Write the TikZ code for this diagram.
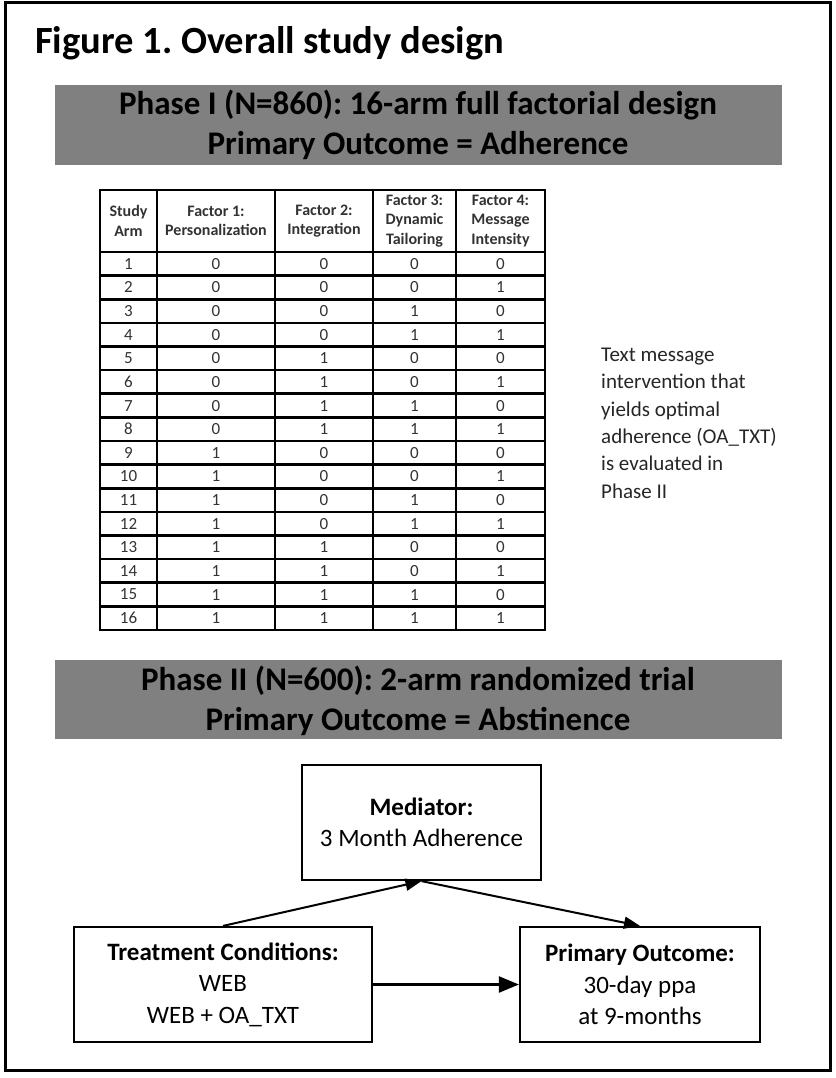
\documentclass[tikz,border=0pt]{standalone}
\usepackage{fontspec}
\setmainfont{Carlito}
\usetikzlibrary{arrows.meta}
\definecolor{bandgray}{RGB}{128,128,128}
\definecolor{cellink}{RGB}{50,50,50}
\frenchspacing
\begin{document}
\begin{tikzpicture}[x=1pt,y=-1pt,
  band/.style={fill=bandgray,draw=none},
  bandtext/.style={font=\fontsize{33}{40}\selectfont\bfseries,align=center},
  headcell/.style={font=\fontsize{16}{19.5}\selectfont\bfseries,align=center,text=cellink,inner sep=0pt},
  numcell/.style={font=\fontsize{17}{18}\selectfont,text=cellink},
  stepbox/.style={draw,line width=2.2pt,minimum width=#1,minimum height=115pt,
    align=center,font=\fontsize{25}{31.5}\selectfont,inner sep=0pt},
  link/.style={line width=2pt,-{Triangle[length=16pt,width=12pt]}},
  biglink/.style={line width=2.2pt,-{Triangle[length=20pt,width=16pt]}}]
  \useasboundingbox (0,0) rectangle (835,1078);
  % outer frame and title
  \draw[line width=3pt] (5,3) rectangle (830,1070);
  \node[anchor=base west,inner sep=0pt,font=\fontsize{38.5}{40}\selectfont\bfseries]
    (title) at (35,54) {Figure 1. Overall study design};
  % phase I
  \path[band] (55,85) rectangle (782,165);
  \node[bandtext,anchor=base] (phaseone) at (418,115)
    {Phase I (N=860): 16-arm full factorial design};
  \node[bandtext,anchor=base] (outcomeone) at (418,155)
    {Primary Outcome = Adherence};
  % factorial table
  \path
  (100,190) coordinate (TL)
  (545,630) coordinate (BR)
  ;
  \draw[line width=2.6pt] (TL) rectangle (BR);
  \foreach \x in {157,275,373,456}
    \draw[line width=2.6pt] (\x,190) -- (\x,630);
  \foreach \i in {0,...,15}
    \draw[line width=2.6pt] (100,252+23.625*\i) -- (545,252+23.625*\i);
  \node[headcell] (harm) at (128.5,221) {Study\\Arm};
  \node[headcell] (hfone) at (216,221) {Factor 1:\\Personalization};
  \node[headcell] (hftwo) at (324,221) {Factor 2:\\Integration};
  \node[headcell] (hfthree) at (414.5,221) {Factor 3:\\Dynamic\\Tailoring};
  \node[headcell] (hffour) at (500.5,221) {Factor 4:\\Message\\Intensity};
  \foreach \i in {1,...,16}{
    \pgfmathsetmacro{\y}{252+23.625*(\i-0.5)}
    \pgfmathtruncatemacro{\fa}{mod(floor((\i-1)/8),2)}
    \pgfmathtruncatemacro{\fb}{mod(floor((\i-1)/4),2)}
    \pgfmathtruncatemacro{\fc}{mod(floor((\i-1)/2),2)}
    \pgfmathtruncatemacro{\fd}{mod(\i-1,2)}
    \node[numcell] (arm\i) at (128.5,\y) {\i};
    \node[numcell] (fa\i) at (216,\y) {\fa};
    \node[numcell] (fb\i) at (324,\y) {\fb};
    \node[numcell] (fc\i) at (414.5,\y) {\fc};
    \node[numcell] (fd\i) at (500.5,\y) {\fd};
  }
  \node[anchor=north west,inner sep=0pt,align=left,
    font=\fontsize{21}{27.3}\selectfont,text=black!85] (note) at (601,348)
    {Text message\\intervention that\\yields optimal\\adherence (OA\_TXT)\\is evaluated in\\Phase II};
  % phase II
  \path[band] (55,660) rectangle (782,739);
  \node[bandtext,anchor=base] (phasetwo) at (418,690)
    {Phase II (N=600): 2-arm randomized trial};
  \node[bandtext,anchor=base] (outcometwo) at (418,730)
    {Primary Outcome = Abstinence};
  % mediation model
  \node[stepbox=239pt] (med) at (421.5,822.5)
    {\textbf{Mediator:}\\3 Month Adherence};
  \node[stepbox=298pt] (treat) at (223,984.5)
    {\textbf{Treatment Conditions:}\\WEB\\WEB + OA\_TXT};
  \node[stepbox=240pt] (prim) at (640,984.5)
    {\textbf{Primary Outcome:}\\30-day ppa\\at 9-months};
  \draw[link] (treat.north) -- (med.south);
  \draw[link] (med.south) -- (prim.north);
  \draw[biglink] (treat.east) -- (prim.west);
\end{tikzpicture}
\end{document}
